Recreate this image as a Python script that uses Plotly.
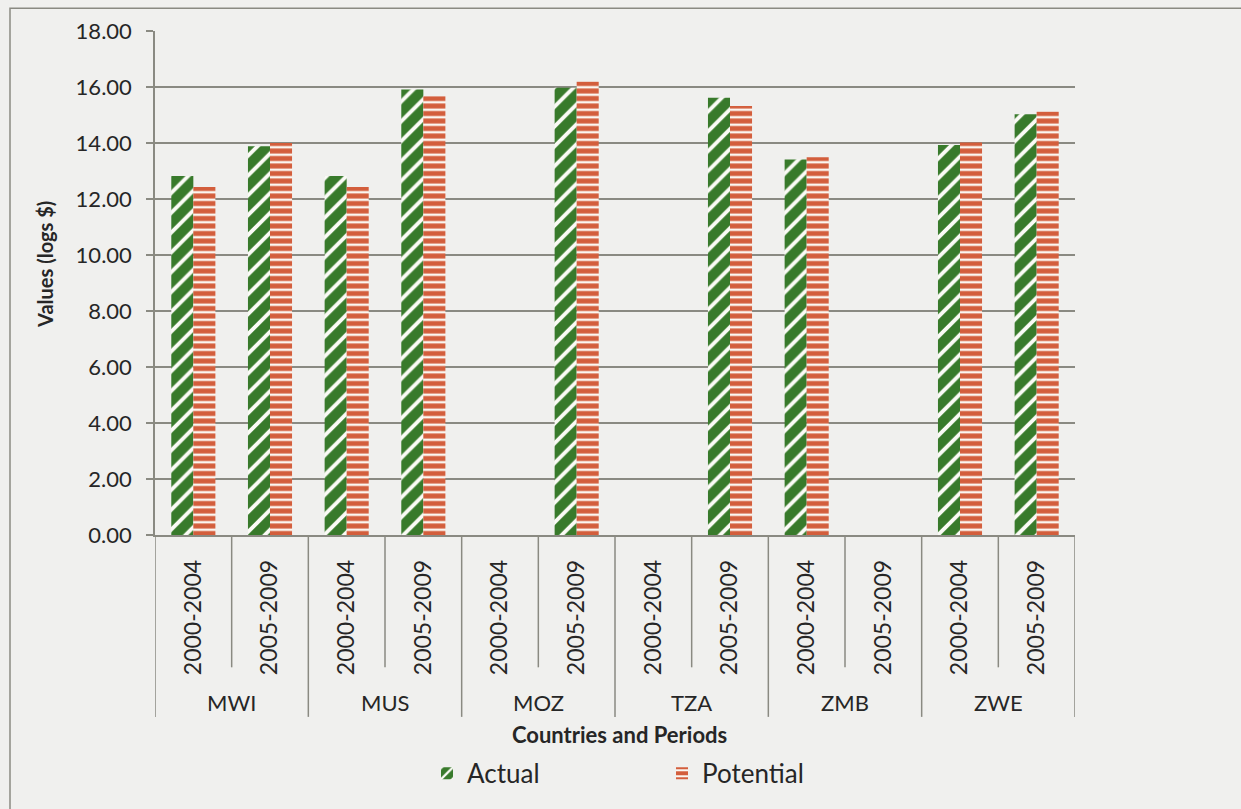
import plotly.graph_objects as go

# Countries and the two periods reported for each
countries = ["MWI", "MUS", "MOZ", "TZA", "ZMB", "ZWE"]
periods = ["2000-2004", "2005-2009"]

# Values (logs $), one entry per country/period pair; None = no data
actual = [12.82, 13.88, 12.82, 15.91, None, 15.97, None, 15.62, 13.41, None, 13.93, 15.03]
potential = [12.43, 14.00, 12.43, 15.67, None, 16.19, None, 15.32, 13.49, None, 14.02, 15.12]

y_ticks = [0, 2, 4, 6, 8, 10, 12, 14, 16, 18]

slot_keys = [f"{c} {p}" for c in countries for p in periods]
slot_text = [p for c in countries for p in periods]

FONT = "Lato"
TEXT = "#262626"
GRID = "#8a8a82"
BG = "#f0f0ee"

# Plot-area geometry in pixels
W, H = 1241, 809
L, R, T, B = 155, 1075, 31, 539.5


def px_x(px):
    return (px - L) / (R - L)


def px_y(py):
    return (B - py) / (B - T)


fig = go.Figure()
fig.add_trace(go.Bar(
    name="Actual", x=slot_keys, y=actual,
    marker=dict(color="#387a2b", line=dict(width=0),
                pattern=dict(shape="/", fgcolor="#fbfbf6", fgopacity=1, size=14,
                             solidity=0.28, fillmode="overlay")),
))
fig.add_trace(go.Bar(
    name="Potential", x=slot_keys, y=potential,
    marker=dict(color="#d35e3c", line=dict(width=0),
                pattern=dict(shape="-", fgcolor="#fbf6f0", fgopacity=1, size=7.5,
                             solidity=0.33, fillmode="overlay")),
))

shapes = []
# Dividers between periods inside a country
for i in range(len(countries)):
    xi = 2 * i + 0.5
    shapes.append(dict(type="line", xref="x", yref="paper", x0=xi, x1=xi,
                       y0=0, y1=px_y(673), line=dict(color=GRID, width=1.5)))
# Dividers between countries
for i in range(len(countries) + 1):
    xi = 2 * i - 0.5
    shapes.append(dict(type="line", xref="x", yref="paper", x0=xi, x1=xi,
                       y0=0, y1=px_y(723), line=dict(color=GRID, width=1.5)))
# Chart frame
shapes.append(dict(type="rect", xref="paper", yref="paper",
                   x0=px_x(10), x1=px_x(1300), y0=px_y(8), y1=px_y(900),
                   line=dict(color=GRID, width=1.5), layer="below"))

annotations = []
for i, c in enumerate(countries):
    annotations.append(dict(text=c, xref="x", yref="paper", x=2 * i + 0.5,
                            y=px_y(708), showarrow=False,
                            font=dict(family=FONT, size=22, color=TEXT),
                            xanchor="center", yanchor="middle"))
annotations.append(dict(text="<b>Countries and Periods</b>", xref="paper", yref="paper",
                        x=px_x(619), y=px_y(741), showarrow=False,
                        font=dict(family=FONT, size=22, color=TEXT),
                        xanchor="center", yanchor="middle"))
annotations.append(dict(text="<b>Values (logs $)</b>", xref="paper", yref="paper",
                        x=px_x(45), y=px_y(267), showarrow=False, textangle=-90,
                        font=dict(family=FONT, size=20, color=TEXT),
                        xanchor="center", yanchor="middle"))

fig.update_layout(
    width=W, height=H,
    margin=dict(l=L, r=W - R, t=T, b=H - B),
    paper_bgcolor=BG, plot_bgcolor=BG,
    barmode="group", bargap=0.425, bargroupgap=0,
    font=dict(family=FONT, color=TEXT),
    shapes=shapes, annotations=annotations,
    legend=dict(orientation="h", x=px_x(427), y=px_y(780),
                xanchor="left", yanchor="middle",
                bgcolor="rgba(0,0,0,0)",
                font=dict(family=FONT, size=26, color=TEXT),
                entrywidth=190, entrywidthmode="pixels",
                traceorder="normal"),
    xaxis=dict(type="category", tickvals=slot_keys, ticktext=slot_text,
               tickangle=-90, tickfont=dict(family=FONT, size=23, color=TEXT),
               showgrid=False, showline=True, linecolor=GRID, linewidth=1.5,
               ticks="", ticklabelstandoff=14, range=[-0.5, 11.5]),
    yaxis=dict(range=[0, 18], tickvals=y_ticks, tickformat=".2f",
               tickfont=dict(family=FONT, size=22, color=TEXT),
               showgrid=True, gridcolor=GRID, gridwidth=1.5,
               showline=True, linecolor=GRID, linewidth=1.5,
               ticks="outside", ticklen=7, tickcolor=GRID, tickwidth=1.5,
               zeroline=False, ticklabelstandoff=10),
)

fig.write_html("out.html")
